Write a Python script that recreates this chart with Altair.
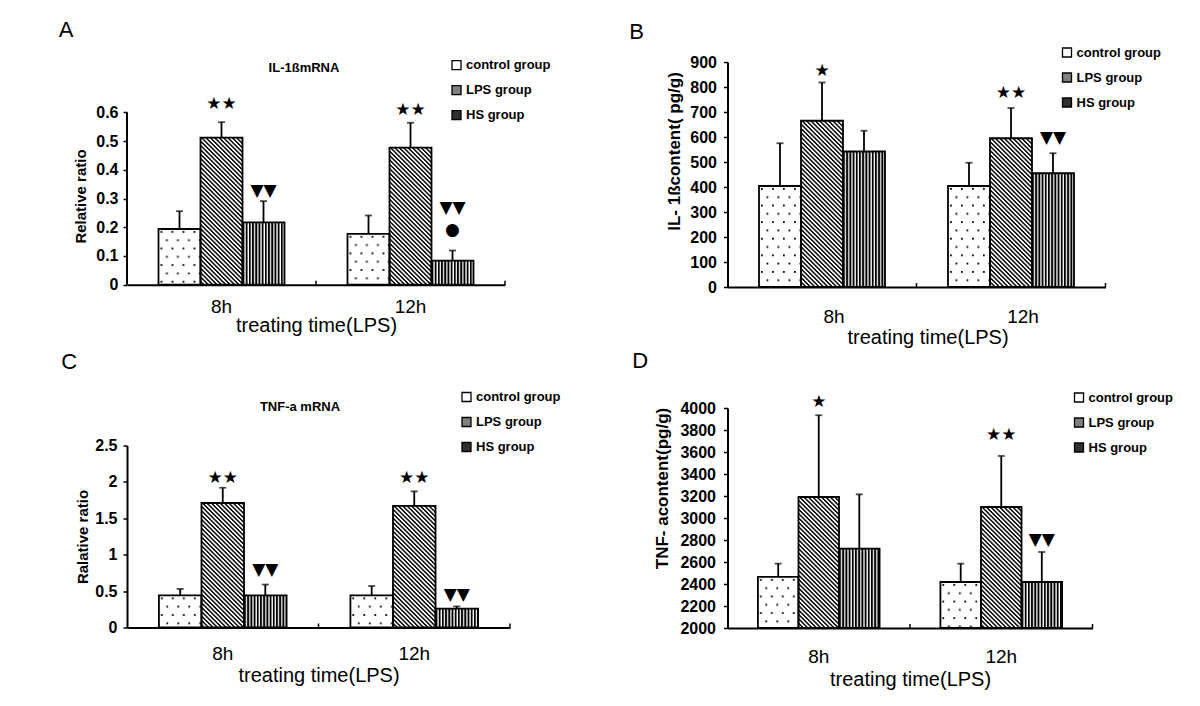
import base64
import altair as alt
import pandas as pd

FONT = "Liberation Sans"
SYM_FONT = "DejaVu Sans"

times = ["8h", "12h"]
groups = ["control group", "LPS group", "HS group"]

# bar heights and top of error bars, order: 8h (control, LPS, HS), 12h (control, LPS, HS)
a_mean = [0.194, 0.512, 0.217, 0.177, 0.477, 0.084]
a_upper = [0.256, 0.566, 0.291, 0.241, 0.564, 0.119]
b_mean = [404, 665, 542, 404, 595, 455]
b_upper = [575, 818, 625, 497, 716, 535]
c_mean = [0.44, 1.71, 0.44, 0.44, 1.67, 0.26]
c_upper = [0.53, 1.92, 0.59, 0.57, 1.87, 0.29]
d_mean = [2464, 3191, 2722, 2418, 3100, 2418]
d_upper = [2585, 3934, 3215, 2585, 3564, 2691]

# significance marks
a_sig_time = ["8h", "8h", "12h", "12h", "12h"]
a_sig_group = ["LPS group", "HS group", "LPS group", "HS group", "HS group"]
a_sig_text = ["★★", "▼▼", "★★", "▼▼", "●"]
a_sig_y = [0.630, 0.326, 0.608, 0.268, 0.192]
b_sig_time = ["8h", "12h", "12h"]
b_sig_group = ["LPS group", "LPS group", "HS group"]
b_sig_text = ["★", "★★", "▼▼"]
b_sig_y = [866, 778, 595]
c_sig_time = ["8h", "8h", "12h", "12h"]
c_sig_group = ["LPS group", "HS group", "LPS group", "HS group"]
c_sig_text = ["★★", "▼▼", "★★", "▼▼"]
c_sig_y = [2.06, 0.79, 2.06, 0.44]
d_sig_time = ["8h", "12h", "12h"]
d_sig_group = ["LPS group", "LPS group", "HS group"]
d_sig_text = ["★", "★★", "▼▼"]
d_sig_y = [4055, 3752, 2804]

a_ticks = [0, 0.1, 0.2, 0.3, 0.4, 0.5, 0.6]
b_ticks = [0, 100, 200, 300, 400, 500, 600, 700, 800, 900]
c_ticks = [0, 0.5, 1, 1.5, 2, 2.5]
d_ticks = [2000, 2200, 2400, 2600, 2800, 3000, 3200, 3400, 3600, 3800, 4000]


def svg_uri(inner, w, h, transform=""):
    tr = f' patternTransform="{transform}"' if transform else ""
    svg = (
        '<svg xmlns="http://www.w3.org/2000/svg" width="100%" height="100%">'
        f'<defs><pattern id="p" width="{w}" height="{h}" patternUnits="userSpaceOnUse"{tr}>'
        f'<rect width="{w}" height="{h}" fill="#fff"/>{inner}</pattern></defs>'
        '<rect width="100%" height="100%" fill="url(#p)"/></svg>'
    )
    return "data:image/svg+xml;base64," + base64.b64encode(svg.encode()).decode()


pattern_uris = [
    svg_uri('<rect x="2" y="2" width="1.8" height="1.8" fill="#000"/>'
            '<rect x="7.5" y="10.3" width="1.8" height="1.8" fill="#000"/>', 11, 16.6),
    svg_uri('<rect width="1.45" height="3.1" fill="#000"/>', 3.1, 3.1, "rotate(-45)"),
    svg_uri('<rect width="1.9" height="10" fill="#000"/>', 3.2, 10),
]
legend_fill = ["#ffffff", "#808080", "#303030"]


def panel(letter, mean, upper, sig_t, sig_g, sig_s, sig_y, p):
    df = pd.DataFrame({
        "time": [t for t in times for _ in groups],
        "group": groups * len(times),
        "mean": mean,
        "upper": upper,
        "base": [p["domain"][0]] * (len(times) * len(groups)),
    })
    sig = pd.DataFrame({"time": sig_t, "group": sig_g, "s": sig_s, "y": sig_y})

    xaxis = dict(title="treating time(LPS)", labelAngle=0, ticks=False, tickSize=0,
                 domainColor="black", domainWidth=2, labelFont=FONT, labelFontSize=19,
                 labelColor="black", labelPadding=p["xlp"], labelOffset=p["xlo"],
                 titleFont=FONT, titleFontSize=20, titleFontWeight="normal",
                 titleColor="black", titlePadding=p["xtp"])
    if p.get("xtx") is not None:
        xaxis["titleX"] = p["xtx"]
    xscale = alt.Scale(domain=times, paddingInner=0, paddingOuter=0)
    x = alt.X("time:N", sort=times, scale=xscale, axis=alt.Axis(**xaxis))
    xo = alt.XOffset("group:N", sort=groups,
                     scale=alt.Scale(domain=groups, paddingInner=0, paddingOuter=0.75))

    axis_top = p.get("axis_top")
    yaxis = dict(values=p["ticks"], format=p["fmt"], title=p["ytitle"],
                 grid=False, domain=axis_top is None, domainColor="black", domainWidth=2,
                 tickColor="black", tickWidth=1.5, tickSize=4,
                 labelFont=FONT, labelFontSize=16, labelFontWeight="bold",
                 labelColor="black", labelPadding=p["ylp"],
                 titleFont=FONT, titleFontSize=p["ytfs"],
                 titleFontWeight="bold", titleColor="black",
                 titlePadding=p["ytp"])
    if p.get("yty") is not None:
        yaxis["titleY"] = p["yty"]
    yscale = alt.Scale(domain=p["domain"], nice=False, zero=False)

    def yenc(field):
        return alt.Y(field, type="quantitative", scale=yscale, axis=alt.Axis(**yaxis))

    base = alt.Chart(df)
    fill_layer = base.mark_bar().encode(
        x=x, xOffset=xo, y=yenc("mean"), y2="base:Q",
        fill=alt.Fill("group:N", sort=groups,
                      scale=alt.Scale(domain=groups, range=legend_fill),
                      legend=alt.Legend(orient="none", legendX=p["lx"], legendY=p["ly"],
                                        title=None, symbolType="square", symbolSize=81,
                                        symbolStrokeColor="black", symbolStrokeWidth=1.3,
                                        labelFont=FONT, labelFontSize=13,
                                        labelFontWeight="bold", labelColor="black",
                                        labelOffset=3, rowPadding=10, padding=0)),
    )
    img_layers = [
        base.transform_filter(alt.datum.group == g).mark_image(aspect=False).encode(
            x=x, xOffset=xo, y=yenc("mean"), y2="base:Q", url=alt.value(u))
        for g, u in zip(groups, pattern_uris)
    ]
    outline = base.mark_bar(fillOpacity=0, stroke="black", strokeWidth=1.8).encode(
        x=x, xOffset=xo, y=yenc("mean"), y2="base:Q")
    err = base.mark_rule(color="black", strokeWidth=1.8).encode(
        x=x, xOffset=xo, y=yenc("mean"), y2="upper:Q")
    cap = base.mark_tick(color="black", thickness=1.8, size=7, orient="horizontal").encode(
        x=x, xOffset=xo, y=yenc("upper"))
    marks = alt.Chart(sig).mark_text(font=SYM_FONT, fontSize=17, color="black",
                                     baseline="middle").encode(
        x=x, xOffset=xo, y=yenc("y"), text="s:N")
    # small category-boundary ticks on the x axis (between the groups and at the end)
    tick_df = pd.DataFrame({"time": times})
    xticks = alt.Chart(tick_df).mark_rule(color="black", strokeWidth=1.5).encode(
        x=alt.X("time:N", sort=times, scale=xscale, axis=alt.Axis(**xaxis), bandPosition=1),
        y=alt.value(p["h"] - 4), y2=alt.value(p["h"]))
    layers = [fill_layer] + img_layers + [outline, err, cap, marks, xticks]
    if axis_top is not None:
        # y axis line that stops at the top tick (the plot area above it is free room)
        ldf = pd.DataFrame({"lo": [p["domain"][0]], "hi": [axis_top]})
        layers.append(alt.Chart(ldf).mark_rule(color="black", strokeWidth=2).encode(
            x=alt.value(0), y=yenc("lo"), y2="hi:Q"))
    if p.get("inner"):
        tdf = pd.DataFrame({"t": [p["inner"]]})
        layers.append(alt.Chart(tdf).mark_text(font=FONT, fontSize=13, fontWeight="bold",
                                               color="black", baseline="middle").encode(
            text="t:N", x=alt.value(p["ix"]), y=alt.value(p["iy"])))
    return alt.layer(*layers).properties(
        width=p["w"], height=p["h"],
        title=alt.TitleParams(text=letter, anchor="start", frame="bounds", font=FONT,
                              fontSize=22, fontWeight="normal", color="black",
                              offset=p["toff"], dx=p["tdx"]),
    )


pa = dict(w=378, h=222.7, domain=[0, 0.7755], axis_top=0.6, ticks=a_ticks, fmt=".1~f",
          ytitle="Relative ratio", ytfs=15, ylp=5, ytp=7, yty=134,
          xlp=13, xlo=0, xtp=-1.5, lx=323, ly=-3.3,
          inner="IL-1ßmRNA", ix=177, iy=5.7, toff=16.5, tdx=-15)
pb = dict(w=378, h=225, domain=[0, 900], ticks=b_ticks, fmt="d", ytitle="IL- 1ßcontent( pg/g)",
          ytfs=17, ylp=7, ytp=6.5, yty=89, xlp=20.3, xlo=12, xtp=1, xtx=200, lx=333, ly=-16,
          toff=2, tdx=-36)
pc = dict(w=383, h=182, domain=[0, 2.5], ticks=c_ticks, fmt=".1~f", ytitle="Ralative ratio",
          ytfs=15, ylp=6, ytp=4, xlp=16.8, xlo=0, xtp=1.7, lx=333, ly=-55,
          inner="TNF-a mRNA", ix=173, iy=-39, toff=16.5, tdx=-14.5)
pd_ = dict(w=365, h=220, domain=[2000, 4000], ticks=d_ticks, fmt="d", ytitle="TNF- acontent(pg/g)",
           ytfs=17, ylp=8, ytp=8, yty=80, xlp=19.5, xlo=0, xtp=2.6, lx=345, ly=-17,
           toff=18, tdx=-21.6)

A = panel("A", a_mean, a_upper, a_sig_time, a_sig_group, a_sig_text, a_sig_y, pa)
B = panel("B", b_mean, b_upper, b_sig_time, b_sig_group, b_sig_text, b_sig_y, pb)
C = panel("C", c_mean, c_upper, c_sig_time, c_sig_group, c_sig_text, c_sig_y, pc)
D = panel("D", d_mean, d_upper, d_sig_time, d_sig_group, d_sig_text, d_sig_y, pd_)


def indep(ch):
    return ch.resolve_scale(fill="independent", xOffset="independent").resolve_legend(fill="independent")


col1 = indep(alt.vconcat(A, C, spacing=14.5))
col2 = indep(alt.vconcat(B, D, spacing=2))
chart = (
    indep(alt.hconcat(col1, col2, spacing=67.5))
    .properties(padding={"left": 50, "top": 11, "right": 5, "bottom": 5},
                background="white")
    .configure_view(stroke=None)
)

chart.save("out.html", embed_options={"renderer": "svg", "actions": False})
